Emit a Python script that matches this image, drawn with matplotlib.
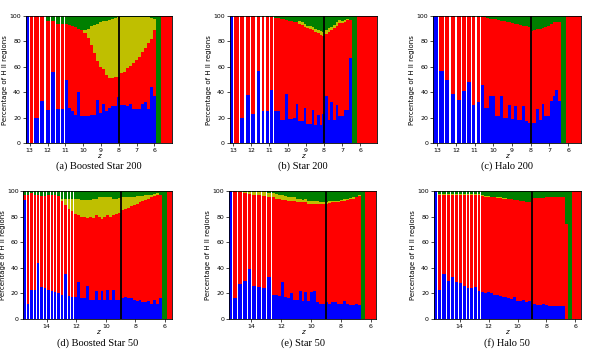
import numpy as np
import matplotlib.pyplot as plt

# redshift edges of the snapshot bars (high z -> low z) and the percentage
# of HII regions in each class; red is whatever is left up to 100 %
a_edges = [13.22, 12.98, 12.74, 12.40, 12.10, 11.78, 11.51, 11.25, 11.00, 10.83, 10.66, 10.49, 10.32, 10.15,
           9.98, 9.81, 9.64, 9.47, 9.30, 9.13, 8.96, 8.79, 8.62, 8.45, 8.28, 8.11, 7.94, 7.77, 7.60, 7.43,
           7.26, 7.09, 6.92, 6.75, 6.58, 6.41, 6.24, 6.07, 5.90, 5.61, 5.03]
a_blue = [100, 0, 20, 33, 26, 56, 27, 27, 50, 28, 25, 22, 40, 21, 21, 21, 22, 22, 34, 24, 31, 25, 28, 29,
          29, 36, 30, 30, 29, 31, 27, 27, 27, 31, 32, 27, 44, 37, 0, 0]
a_yellow = [0, 0, 0, 0, 0, 0, 0, 0, 0, 0, 0, 0, 0, 0, 2, 7, 14.5, 22, 29, 35, 38, 42.5, 46, 46,
            46, 47, 44, 43, 40, 38, 36, 33.5, 31, 27, 24.5, 20.5, 16.5, 9, 0, 0]
a_green = [0, 0, 0, 0, 4, 4, 6, 6, 6, 7, 8, 9, 10, 11, 11, 10, 8, 7, 6, 5, 4, 3.8, 3, 2.4,
           1.6, 1, 1, 1, 1, 1, 1, 1, 1, 1, 1, 1, 1.5, 2, 100, 0]

b_edges = [13.18, 12.93, 12.61, 12.30, 12.00, 11.70, 11.43, 11.20, 10.97, 10.73, 10.58, 10.44, 10.29, 10.14,
           10.00, 9.85, 9.70, 9.55, 9.41, 9.26, 9.11, 8.96, 8.82, 8.67, 8.52, 8.38, 8.23, 8.08, 7.94, 7.79,
           7.64, 7.49, 7.35, 7.20, 7.05, 6.90, 6.76, 6.61, 6.46, 6.18, 5.08]
b_blue = [100, 0, 20, 38, 23, 57, 25, 25, 42, 25, 25, 18, 18, 39, 19, 19, 20, 31, 17, 17, 28, 15, 15, 26,
          14, 22, 14, 23, 37, 18, 32, 18, 30, 21, 21, 26, 26, 67, 0, 0]
b_yellow = [0, 0, 0, 0, 0, 0, 0, 0, 0, 0, 0, 0, 0, 0, 0, 0, 0, 0, 2, 2, 2, 2, 2.5, 2.5,
            2, 2.5, 3, 3, 3, 3, 2, 3, 3, 2.5, 2, 1.5, 1, 0, 0, 0]
b_green = [0, 0, 0, 0, 0, 0.5, 1, 1, 1, 1.5, 1.5, 2, 2.5, 3, 3.5, 4, 5, 5, 4, 5, 6.4, 7.7, 8, 8.5,
           10.3, 11, 12, 12.7, 11, 9.3, 9, 6.7, 5, 3.3, 3.8, 3, 2.2, 3, 100, 0]

c_edges = [13.21, 12.90, 12.56, 12.27, 11.95, 11.68, 11.41, 11.14, 10.89, 10.66, 10.51, 10.37, 10.22, 10.07,
           9.93, 9.78, 9.63, 9.48, 9.34, 9.19, 9.04, 8.89, 8.75, 8.60, 8.45, 8.31, 8.16, 8.01, 7.86, 7.72,
           7.57, 7.42, 7.27, 7.13, 6.98, 6.83, 6.69, 6.54, 6.39, 6.09, 5.32]
c_blue = [100, 57, 50, 39, 34, 41, 48, 30, 32, 46, 28, 28, 37, 37, 21, 21, 37, 20, 20, 30, 19, 29, 18, 18,
          29, 17, 16, 16, 16, 27, 18, 31, 21, 21, 33, 37, 42, 33, 0, 0]
c_yellow = [0, 0, 0, 0, 0, 0, 0, 0, 0, 0, 0, 0, 0, 0, 0, 0, 0, 0, 0, 0, 0, 0, 0, 0,
            0, 0, 0, 0, 0, 0, 0, 0, 0, 0, 0, 0, 0, 0, 0, 0]
c_green = [0, 0, 0, 0, 0, 0, 0, 0.5, 0.5, 1, 1, 1.5, 2, 2.5, 2.5, 3, 3.5, 4, 4.5, 5, 5.5, 6, 6.5, 7,
           7.5, 8, 9, 12, 11, 10.5, 10, 9.5, 8.5, 7.5, 6, 5, 4.5, 5, 100, 0]

d_edges = [15.58, 15.35, 15.12, 14.89, 14.66, 14.43, 14.20, 13.97, 13.74, 13.51, 13.28, 13.05, 12.82, 12.59,
           12.36, 12.13, 11.93, 11.74, 11.54, 11.34, 11.14, 10.95, 10.75, 10.55, 10.35, 10.16, 9.96, 9.76,
           9.56, 9.37, 9.17, 8.97, 8.77, 8.58, 8.38, 8.18, 7.98, 7.79, 7.59, 7.39, 7.19, 7.00, 6.80, 6.60,
           6.40, 6.21, 5.88, 5.55]
d_blue = [93, 12, 23, 23, 44, 25, 24, 23, 22, 21, 20, 19, 35, 18, 17, 17, 29, 16, 16, 26, 15, 15, 22, 15,
          22, 15, 23, 15, 23, 15, 15, 16, 17, 16, 16, 15, 14, 15, 13, 13, 14, 12, 15, 12, 16, 0, 0]
d_yellow = [0, 0, 0, 0, 0, 0, 0, 0, 0, 0, 0, 2, 5, 8, 10, 12, 13, 13, 13, 14, 13, 15, 13, 15,
            17, 15, 14, 15, 13, 12, 11.5, 10, 9, 8, 7.5, 6.5, 6, 5, 4, 3.5, 3, 2, 1.5, 1, 0, 0, 0]
d_green = [3, 3, 2, 3, 3, 4, 4, 3, 3, 3, 4, 6, 6, 6, 6, 6, 6, 7, 7, 7, 7, 6, 6, 5,
           5, 5, 5, 5, 6, 6, 5.5, 5, 5, 5, 4.5, 4.5, 4, 4, 4, 3.5, 3, 3, 2.5, 2, 3, 100, 0]

e_edges = [15.48, 15.21, 14.88, 14.56, 14.23, 13.93, 13.61, 13.27, 12.96, 12.61, 12.41, 12.21, 12.02, 11.82,
           11.62, 11.42, 11.23, 11.03, 10.83, 10.63, 10.44, 10.24, 10.04, 9.84, 9.64, 9.45, 9.25, 9.05,
           8.85, 8.66, 8.46, 8.26, 8.06, 7.87, 7.67, 7.47, 7.27, 7.07, 6.88, 6.68, 6.39, 5.63]
e_blue = [100, 16, 27, 30, 39, 26, 25, 24, 33, 19, 19, 18, 29, 17, 16, 20, 15, 15, 22, 14, 21, 14, 21, 22,
          13, 12, 12, 13, 12, 13, 13, 12, 12, 14, 12, 11, 11, 12, 11, 0, 0]
e_yellow = [0, 0, 0.5, 1, 2, 2, 2.5, 3, 3, 3, 3.5, 3, 3.5, 3, 3.5, 3, 3, 3, 2.5, 2, 2.5, 2.5, 2, 2,
            2, 2, 2, 1.5, 1.5, 1.5, 1.5, 1, 1, 1, 1, 1, 1, 0.5, 0.5, 0, 0]
e_green = [0, 0, 0, 0.5, 0.5, 1, 1, 1, 1.5, 2, 2.5, 3, 3.5, 4, 4.5, 5, 5, 6, 6.5, 7, 6.5, 7.5, 8, 8,
           8, 8.5, 8.5, 8.5, 8, 7.5, 7.5, 7.5, 7, 6.5, 6, 5.5, 5, 4.5, 3.5, 100, 0]

f_edges = [15.78, 15.50, 15.18, 14.88, 14.60, 14.33, 14.06, 13.79, 13.52, 13.25, 12.98, 12.72, 12.50, 12.30,
           12.10, 11.90, 11.70, 11.50, 11.30, 11.10, 10.90, 10.70, 10.50, 10.30, 10.10, 9.90, 9.70, 9.50,
           9.30, 9.10, 8.90, 8.70, 8.50, 8.30, 8.10, 7.90, 7.70, 7.50, 7.30, 7.10, 6.90, 6.69, 6.48, 6.25, 5.63]
f_blue = [100, 23, 35, 30, 33, 29, 28, 26, 24, 24, 25, 22, 21, 20, 21, 20, 19, 19, 18, 17.5, 17, 16, 15.5, 17,
          14, 14, 15, 13, 14, 10, 12, 11, 11, 11.5, 11, 10.5, 10.5, 10, 10, 10, 10, 0, 0, 0]
f_yellow = [0, 0.7, 0.7, 0.7, 0.7, 0.7, 0.7, 0.7, 0.7, 0.7, 0.7, 0.7, 0.5, 0.5, 0.5, 0.5, 0.5, 0.5, 0.5, 0.5,
            0.5, 0.5, 0, 0, 0, 0, 0, 0, 0, 0, 0, 0, 0, 0, 0, 0, 0, 0, 0, 0, 0, 0, 0, 0]
f_green = [0, 2.8, 2.8, 2.8, 2.8, 2.8, 2.8, 2.8, 2.8, 2.8, 2.8, 2.8, 3.5, 4, 4, 4.5, 4.5, 5, 5, 5.5, 5.5, 6,
           6.5, 7, 7, 7.5, 8, 8.5, 9, 6, 5.5, 5.5, 5.5, 5.5, 5, 5, 5, 5, 5, 4.5, 4.5, 26, 100, 0]

panels = [
    ("(a) Boosted Star 200", a_edges, a_blue, a_yellow, a_green, 8, 8.0),
    ("(b) Star 200", b_edges, b_blue, b_yellow, b_green, 9, 8.0),
    ("(c) Halo 200", c_edges, c_blue, c_yellow, c_green, 9, 8.0),
    ("(d) Boosted Star 50", d_edges, d_blue, d_yellow, d_green, 15, 9.0),
    ("(e) Star 50", e_edges, e_blue, e_yellow, e_green, 9, 9.0),
    ("(f) Halo 50", f_edges, f_blue, f_yellow, f_green, 12, 9.0),
]
ticks_top = [13, 12, 11, 10, 9, 8, 7, 6]
ticks_bottom = [14, 12, 10, 8, 6]

# axes boxes in figure fractions [left, bottom, width, height]
boxes = [
    [0.043, 0.590, 0.243, 0.364],
    [0.383, 0.590, 0.245, 0.364],
    [0.722, 0.590, 0.246, 0.364],
    [0.039, 0.086, 0.247, 0.367],
    [0.382, 0.086, 0.245, 0.367],
    [0.723, 0.086, 0.245, 0.367],
]

BLUE, RED, YELLOW, GREEN = "#0000ff", "#ff0000", "#bfbf00", "#007f00"
gap = 0.07

fig = plt.figure(figsize=(6.0, 3.49), dpi=100)

for i, (title, edges, blue, yellow, green, n_gap, zline) in enumerate(panels):
    ax = fig.add_axes(boxes[i])
    edges = np.array(edges)
    blue = np.array(blue, dtype=float)
    yellow = np.array(yellow, dtype=float)
    green = np.array(green, dtype=float)
    red = 100 - blue - yellow - green

    left = edges[:-1]
    width = np.diff(edges)
    width[:n_gap] += gap  # widths are negative (z decreasing), so this narrows them

    # early snapshots: thin white gaps between bars; later ones touch
    for sl, aa in [(slice(0, n_gap), True), (slice(n_gap, None), False)]:
        bottom = np.zeros_like(blue[sl])
        for vals, col in [(blue, BLUE), (red, RED), (yellow, YELLOW), (green, GREEN)]:
            ax.bar(left[sl], vals[sl], width=width[sl], bottom=bottom, align="edge",
                   color=col, linewidth=0, antialiased=aa)
            bottom = bottom + vals[sl]

    ax.axvline(zline, color="black", lw=1.3)
    ax.set_xlim(edges[0], edges[-1])
    ax.set_ylim(0, 100)
    ax.set_xticks(ticks_top if i < 3 else ticks_bottom)
    ax.set_yticks([0, 20, 40, 60, 80, 100])
    ax.tick_params(labelsize=4.5, length=2, width=0.5, pad=1.5)
    ax.set_xlabel("z", fontsize=5, style="italic", labelpad=0)
    ax.set_ylabel("Percentage of H II regions", fontsize=5, labelpad=1)
    for s in ax.spines.values():
        s.set_linewidth(0.6)

    x0, y0, w, h = boxes[i]
    ty = 0.524 if i < 3 else 0.017
    fig.text(x0 + w / 2, ty, title, ha="center", va="center",
             fontsize=7.5, family="Liberation Serif")

fig.savefig("out.png", dpi=100)
